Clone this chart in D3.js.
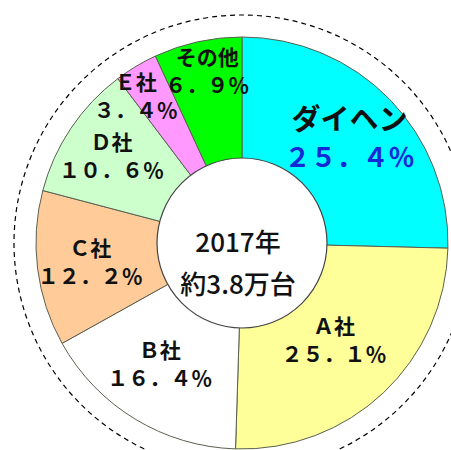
<!DOCTYPE html>
<html>
<head>
<meta charset="utf-8">
<script src="https://cdn.jsdelivr.net/npm/d3@7"></script>
<style>
  body { margin: 0; background: #fff; }
  svg { display: block; }
</style>
</head>
<body>
<div id="chart"></div>
<script>
// data
var companies = ["ダイヘン", "Ａ社", "Ｂ社", "Ｃ社", "Ｄ社", "Ｅ社", "その他"]
var shares = [25.4, 25.1, 16.4, 12.2, 10.6, 3.4, 6.9]
var shareLabels = ["２５．４％", "２５．１％", "１６．４％", "１２．２％", "１０．６％", "３．４％", "６．９％"]
var fills = ["#00ffff", "#ffff99", "#ffffff", "#ffcc99", "#ccffcc", "#ff99ff", "#00ff00"]
var centerLines = ["2017年", "約3.8万台"]
var titleText = "国内アーク溶接ロボット市場シェア"

var data = companies.map(function (c, i) { return { name: c, value: shares[i], label: shareLabels[i] } })

var w = 451, h = 450
var cx = 242, cy = 243
var outerR = 206, innerR = 85

var svg = d3.select('#chart').append('svg')
    .attr('width', w)
    .attr('height', h)

// title, mostly cut off by the top edge
svg.append('text')
    .attr('x', 226)
    .attr('y', -4)
    .attr('text-anchor', 'middle')
    .style('font-family', '"Noto Sans CJK JP"')
    .style('font-weight', 'bold')
    .style('font-size', '28px')
    .text(titleText)

var g = svg.append('g')
    .attr('transform', 'translate(' + cx + ',' + cy + ')')

// dashed ring
g.append('circle')
    .attr('r', 228)
    .attr('fill', 'none')
    .attr('stroke', '#000')
    .attr('stroke-width', 1.2)
    .attr('stroke-dasharray', '5,4')

var color = d3.scaleOrdinal().domain(companies).range(fills)

var pie = d3.pie()
    .sort(null)
    .value(function (d) { return d.value })

var arc = d3.arc()
    .innerRadius(0)
    .outerRadius(outerR)

var arcs = pie(data)

g.selectAll('path.slice')
    .data(arcs)
    .enter()
  .append('path')
    .attr('class', 'slice')
    .attr('d', arc)
    .attr('fill', function (d) { return color(d.data.name) })
    .attr('stroke', '#5a6050')
    .attr('stroke-width', 1)

// hole in the middle
g.append('circle')
    .attr('r', innerR)
    .attr('fill', '#fff')
    .attr('stroke', '#444')
    .attr('stroke-width', 1.2)

// label placement: radius (and small angle nudge) per slice
var labelR = { "ダイヘン": 150, "Ａ社": 134, "Ｂ社": 146, "Ｃ社": 153, "Ｄ社": 157, "Ｅ社": 181, "その他": 175 }
var labelNudge = { "Ｂ社": 3, "Ｅ社": -5, "その他": 1 }

function labelPos(d) {
  var a = (d.startAngle + d.endAngle) / 2 + (labelNudge[d.data.name] || 0) * Math.PI / 180
  var r = labelR[d.data.name]
  return [r * Math.sin(a), -r * Math.cos(a)]
}

var labels = g.selectAll('g.label')
    .data(arcs)
    .enter()
  .append('g')
    .attr('class', 'label')
    .attr('transform', function (d) { return 'translate(' + labelPos(d) + ')' })
    .style('font-family', '"Noto Sans CJK JP"')
    .style('font-weight', 'bold')
    .attr('text-anchor', 'middle')

labels.append('text')
    .attr('y', function (d) { return d.data.name == "ダイヘン" ? -8 : -6 })
    .style('font-size', function (d) { return d.data.name == "ダイヘン" ? '29px' : '21px' })
    .attr('fill', '#111')
    .text(function (d) { return d.data.name })

labels.append('text')
    .attr('y', function (d) { return d.data.name == "ダイヘン" ? 29 : 22 })
    .style('font-size', function (d) { return d.data.name == "ダイヘン" ? '26px' : '21px' })
    .attr('fill', function (d) { return d.data.name == "ダイヘン" ? '#1428d8' : '#111' })
    .text(function (d) { return d.data.label })

// center text
g.selectAll('text.center')
    .data(centerLines)
    .enter()
  .append('text')
    .attr('class', 'center')
    .attr('x', -4)
    .attr('y', function (d, i) { return i == 0 ? 9 : 51 })
    .attr('text-anchor', 'middle')
    .style('font-family', '"Noto Sans CJK JP"')
    .style('font-weight', '500')
    .style('font-size', '26px')
    .attr('fill', '#111')
    .text(function (d) { return d })
</script>
</body>
</html>
